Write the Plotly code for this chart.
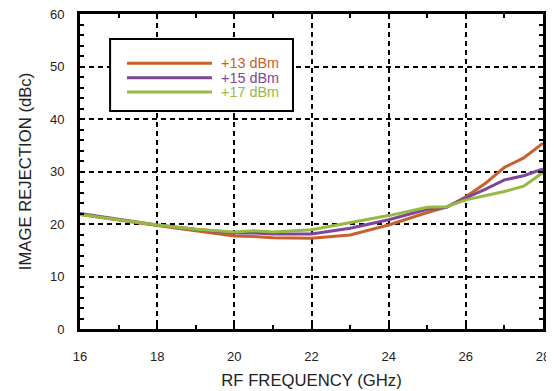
import plotly.graph_objects as go

freq = [16, 17, 18, 19, 20, 20.5, 21, 22, 23, 24, 25, 25.5, 26, 26.5, 27, 27.5, 28]
rej_13 = [21.8, 20.7, 19.7, 18.7, 17.7, 17.6, 17.4, 17.3, 17.9, 19.8, 22.2, 23.2, 25.2, 27.7, 30.8, 32.6, 35.4]
rej_15 = [22.0, 20.9, 19.8, 19.0, 18.3, 18.3, 18.1, 18.1, 19.2, 20.8, 22.8, 23.2, 25.0, 26.6, 28.4, 29.2, 30.5]
rej_17 = [21.8, 20.8, 19.8, 19.0, 18.5, 18.7, 18.5, 18.9, 20.2, 21.6, 23.2, 23.3, 24.6, 25.4, 26.2, 27.2, 29.8]

series = [("+13 dBm", rej_13, "#c8602a"), ("+15 dBm", rej_15, "#7d4699"), ("+17 dBm", rej_17, "#96b941")]

fig = go.Figure()
for name, vals, col in series:
    fig.add_trace(go.Scatter(x=freq, y=vals, mode="lines", name=name,
                             line=dict(color=col, width=3), showlegend=False))

# hand-drawn legend box like the original
fig.add_shape(type="rect", xref="paper", yref="paper", x0=0.065, x1=0.46, y0=0.692, y1=0.921,
              line=dict(color="black", width=2), fillcolor="white")
for i, (name, vals, col) in enumerate(series):
    yy = 0.844 - i * 0.046
    fig.add_shape(type="line", xref="paper", yref="paper", x0=0.1015, x1=0.285, y0=yy, y1=yy,
                  line=dict(color=col, width=3))
    fig.add_annotation(text=name, xref="paper", yref="paper", x=0.300, y=yy, xanchor="left",
                       yanchor="middle", showarrow=False, height=14, font=dict(color=col, size=14.4))

axis_common = dict(showline=True, linewidth=3, linecolor="black", mirror="allticks",
                   ticks="inside", ticklen=5, tickwidth=1.5, tickcolor="black",
                   showgrid=True, gridcolor="black", gridwidth=2, griddash="5px,4px",
                   zeroline=False, automargin=False, ticklabeloverflow="allow",
                   tickfont=dict(size=13, color="#222"))

fig.update_xaxes(range=[16, 28], dtick=2, ticklabelstandoff=13,
                 title=dict(text="RF FREQUENCY (GHz)", font=dict(size=16.7), standoff=12),
                 minor=dict(dtick=1, ticks="inside", ticklen=4, tickcolor="black", showgrid=False),
                 **axis_common)
fig.update_yaxes(range=[0, 60], dtick=10, ticklabelstandoff=10,
                 title=dict(text="IMAGE REJECTION (dBc)", font=dict(size=16.7), standoff=15),
                 minor=dict(dtick=2, ticks="inside", ticklen=4, tickcolor="black", showgrid=False),
                 **axis_common)

# page body adds an 8px margin, so the figure is 8px smaller and shifted
fig.update_layout(
    width=546, height=383,
    margin=dict(l=72, r=11, t=6, b=62),
    paper_bgcolor="white",
    plot_bgcolor="white",
    font=dict(family="Liberation Sans, Arial, sans-serif", color="#222"),
)

fig.write_html("out.html")
